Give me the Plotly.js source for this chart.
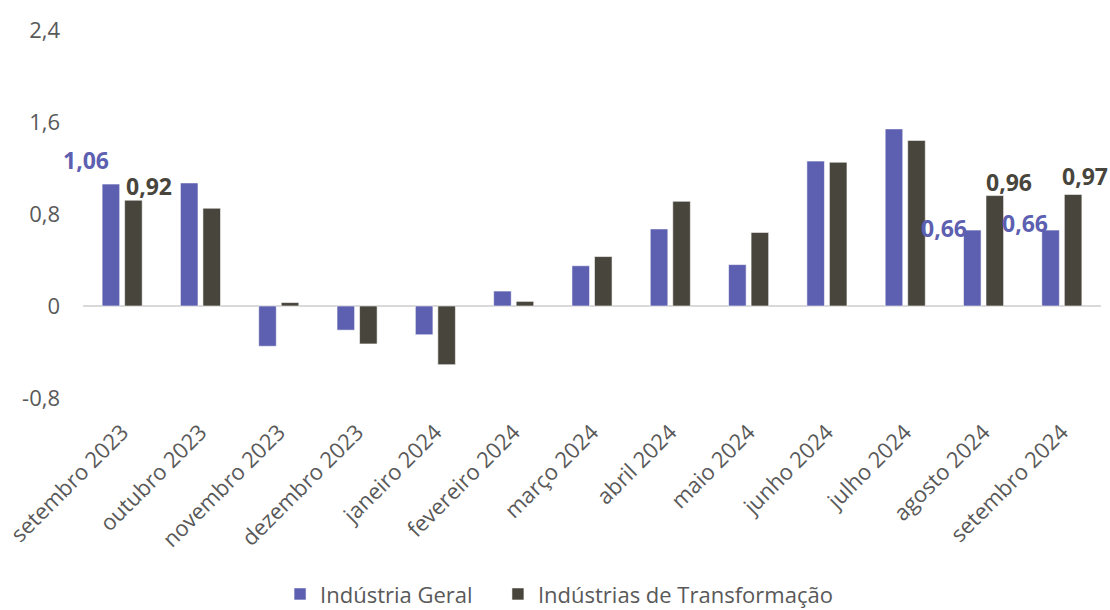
<!DOCTYPE html>
<html>
<head>
<meta charset="utf-8">
<script src="https://cdn.plot.ly/plotly-3.0.1.min.js"></script>
<style>html,body{margin:0;padding:0;background:#fff;}#chart{width:1110px;height:610px;}</style>
</head>
<body>
<div id="chart"></div>
<script>
const categories = ["setembro 2023","outubro 2023","novembro 2023","dezembro 2023","janeiro 2024","fevereiro 2024","março 2024","abril 2024","maio 2024","junho 2024","julho 2024","agosto 2024","setembro 2024"];
const industriaGeral = [1.06, 1.07, -0.35, -0.21, -0.25, 0.13, 0.35, 0.67, 0.36, 1.26, 1.54, 0.66, 0.66];
const industriasTransformacao = [0.92, 0.85, 0.03, -0.33, -0.51, 0.04, 0.43, 0.91, 0.64, 1.25, 1.44, 0.96, 0.97];
const yTicks = [-0.8, 0, 0.8, 1.6, 2.4];
const seriesNames = ["Indústria Geral", "Indústrias de Transformação"];
const colors = ["#5d5fb0", "#48453c"];

// labelled points: [seriesIndex, categoryIndex]
const labelled = [[0,0],[1,0],[0,11],[1,11],[0,12],[1,12]];
const labelOffsets = [[-36,24],[27,14],[-40,2],[25,14],[-37,7],[23,18]];

const fmt = v => v.toFixed(2).replace('.', ',');
const seriesData = [industriaGeral, industriasTransformacao];

const annotations = labelled.map((p, i) => ({
  xref: 'x', yref: 'y',
  x: categories[p[1]], y: seriesData[p[0]][p[1]],
  text: '<b>' + fmt(seriesData[p[0]][p[1]]) + '</b>',
  showarrow: false,
  xanchor: 'center', yanchor: 'middle',
  xshift: labelOffsets[i][0], yshift: labelOffsets[i][1],
  font: {family: 'Open Sans, sans-serif', size: 23, color: colors[p[0]]}
}));

const legendIds = ['legend', 'legend2'];
const traces = seriesData.map((vals, i) => ({
  type: 'bar',
  name: seriesNames[i],
  x: categories,
  y: vals,
  legend: legendIds[i],
  marker: {color: colors[i], line: {color: 'rgba(255,255,255,0.55)', width: 1}},
  hoverinfo: 'x+y'
}));

const legendStyle = (xpos) => ({
  orientation: 'h',
  xref: 'container', x: xpos, xanchor: 'left',
  yref: 'container', y: 0.026, yanchor: 'middle',
  font: {size: 22, color: '#595959'},
  itemwidth: 30,
  bgcolor: 'rgba(0,0,0,0)'
});

const layout = {
  width: 1110, height: 610,
  margin: {l: 83, r: 9, t: 30, b: 212, autoexpand: false},
  paper_bgcolor: '#ffffff', plot_bgcolor: '#ffffff',
  separators: ', ',
  barmode: 'group',
  bargap: 0.425,
  bargroupgap: 0.22,
  font: {family: 'Open Sans, sans-serif', color: '#595959', size: 21},
  xaxis: {
    type: 'category',
    range: [-0.5, 12.5],
    tickangle: -45,
    automargin: false,
    showgrid: false, showline: false, zeroline: false,
    ticks: '',
    ticklabelstandoff: 16,
    tickfont: {size: 22, color: '#595959'}
  },
  yaxis: {
    range: [-0.8, 2.4],
    automargin: false,
    tickvals: yTicks,
    ticktext: yTicks.map(v => v === 0 ? '0' : String(v).replace('.', ',')),
    showgrid: false, showline: false,
    zeroline: true, zerolinecolor: '#d9d9d9', zerolinewidth: 2,
    ticks: '',
    ticklabelstandoff: 22,
    tickfont: {size: 22, color: '#595959'}
  },
  showlegend: true,
  legend: legendStyle(0.2523),
  legend2: legendStyle(0.4486),
  annotations: annotations
};

Plotly.newPlot('chart', traces, layout, {displayModeBar: false, staticPlot: true});
</script>
</body>
</html>
